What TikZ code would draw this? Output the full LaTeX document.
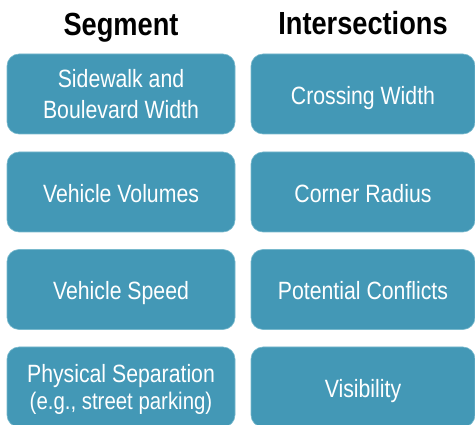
\documentclass[tikz,border=0pt]{standalone}
\usepackage{fontspec}
\setmainfont{Liberation Sans}[FakeStretch=0.85]
\definecolor{boxteal}{RGB}{67,152,182}
\definecolor{boxedge}{RGB}{120,185,205}
\begin{document}
\begin{tikzpicture}[x=1pt,y=-1pt,
  cell/.style={rectangle, rounded corners=12pt, fill=boxteal, draw=boxedge, line width=0.6pt,
    text=white, align=center, inner sep=0pt,
    font=\fontsize{25}{31}\selectfont},
  one/.style={text height=21pt, text depth=0pt},
  lcell/.style={cell, minimum width=228pt, minimum height=80pt},
  rcell/.style={cell, minimum width=224pt, minimum height=80pt},
  head/.style={font=\fontsize{32}{36}\selectfont\bfseries, text=black, anchor=base, inner sep=0pt}]
\useasboundingbox (0,0) rectangle (475,425);
\node[head] (hseg) at (121,36) {Segment};
\node[head] (hint) at (363,35) {Intersections};
\node[lcell, text depth=-3pt] (s1) at (121,94) {Sidewalk and\\Boulevard Width};
\node[lcell, one] (s2) at (121,192) {Vehicle Volumes};
\node[lcell, one] (s3) at (121,289.5) {Vehicle Speed};
\node[lcell, text depth=-5pt] (s4) at (121,387) {Physical Separation\\[-4pt]{\fontsize{24}{27}\selectfont (e.g., street parking)}};
\node[rcell, one] (i1) at (363,94) {Crossing Width};
\node[rcell, one] (i2) at (363,192) {Corner Radius};
\node[rcell, one] (i3) at (363,289.5) {Potential Conflicts};
\node[rcell, one] (i4) at (363,387) {Visibility};
\end{tikzpicture}
\end{document}
